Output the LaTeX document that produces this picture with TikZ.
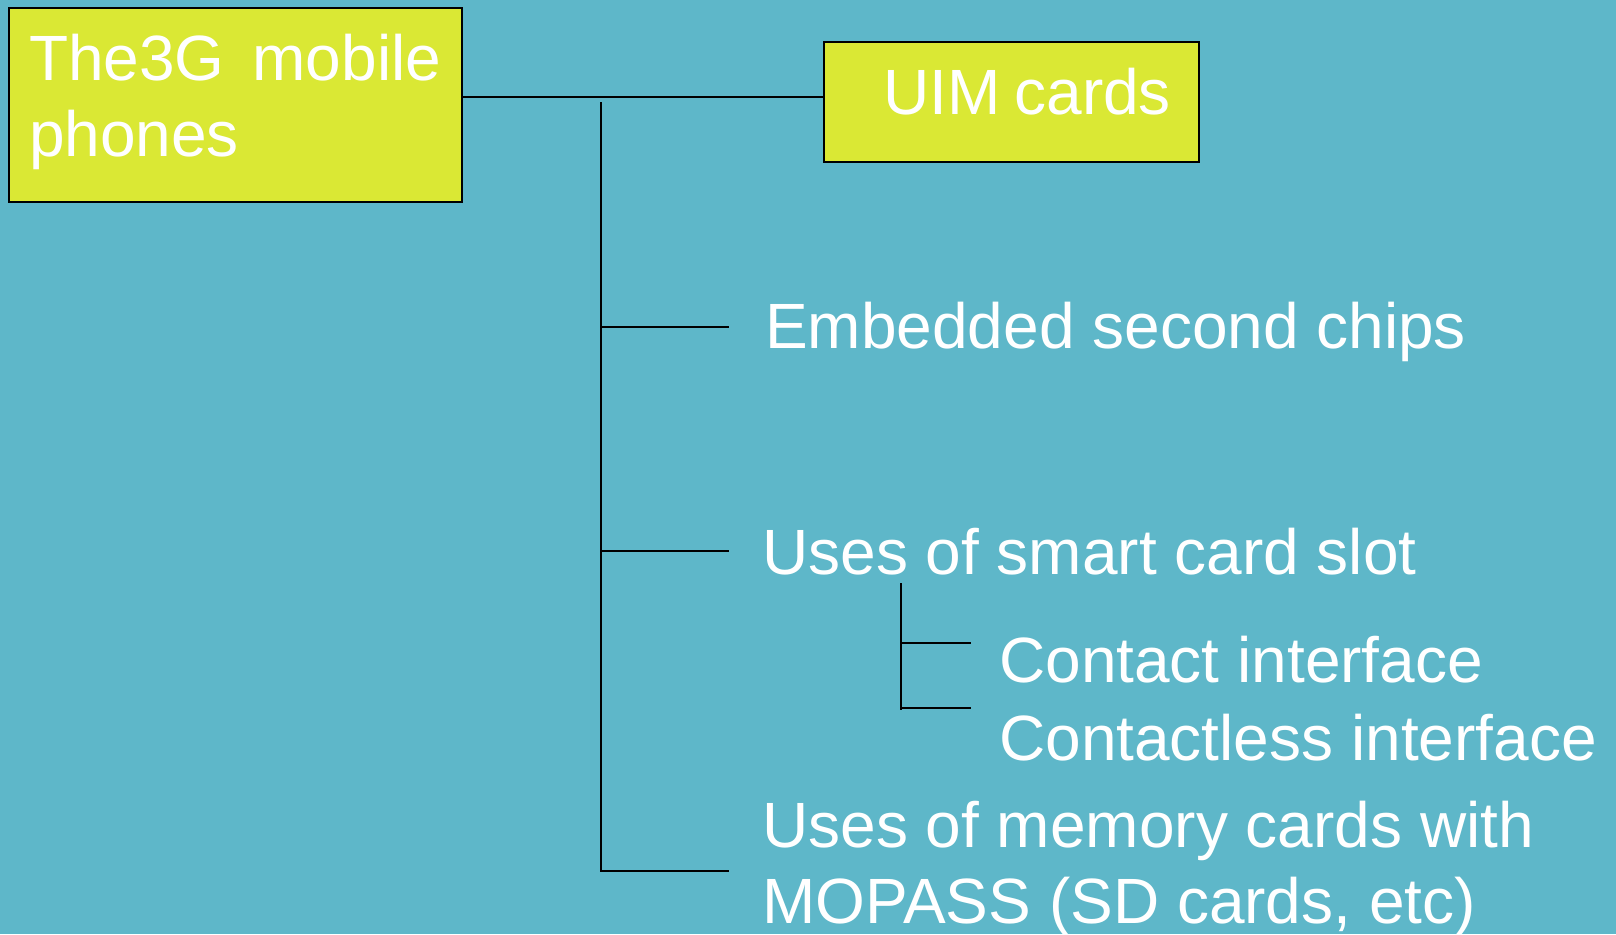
\documentclass[tikz,border=0pt]{standalone}
\usepackage{fontspec}
\setmainfont{Liberation Sans}
\usepackage{tikz}
\usetikzlibrary{positioning,calc}
\definecolor{bgcolor}{RGB}{94,183,201}
\definecolor{boxcolor}{RGB}{218,232,52}

\begin{document}
\begin{tikzpicture}[
  x=1pt, y=-1pt,
  topbox/.style = {rectangle, draw=black, line width=2pt, fill=boxcolor,
                   anchor=north west, inner ysep=0pt, text=white,
                   font=\fontsize{64}{76}\selectfont},
  item/.style   = {anchor=base west, inner sep=0pt, text=white, align=left,
                   font=\fontsize{64}{76}\selectfont},
  wire/.style   = {line width=2pt, draw=black}
]
\useasboundingbox (0,0) rectangle (1616,934);
\fill[bgcolor] (0,0) rectangle (1616,934);

\def\Tx{601}
\def\Bx{729}
\def\Sx{901}
\def\Sb{971}

% the two boxes
\node[topbox, minimum width=453pt, minimum height=194pt, text width=413pt,
      inner xsep=20pt, text height=72pt, text depth=122pt, align=left]
      (phones) at (8,7) {\mbox{The3G\hspace{28pt}mobile}\\phones};
\node[topbox, minimum width=375pt, minimum height=120pt, text width=319pt,
      inner xsep=28pt, text height=72pt, text depth=48pt, align=right]
      (uim) at (823,41) {UIM\hspace{14pt}cards};
\draw[wire] ([yshift=5pt]uim.west) -- ([yshift=5pt]uim.west -| phones.east);

% the items
\node[item] (chips) at (765,348) {Embedded second chips};
\node[item] (slot) at (762,574) {Uses of smart card slot};
\node[item] (contact) at (999,682) {Contact interface};
\node[item] (contactless) at (999,760) {Contactless interface};
\node[item] (mopass) at (762,923) {Uses of memory cards with\\MOPASS (SD cards, etc)};

% trunk and branches
\coordinate (trunktop) at (\Tx,102);
\coordinate (trunkbot) at (\Tx,872);
\draw[wire] (trunktop) -- (trunkbot);
\foreach \y/\n in {327/chips, 551/slot, 871/mopass}{
  \coordinate (b\n) at (\Bx,\y);
  \draw[wire] (b\n -| trunktop) -- (b\n);
}

\coordinate (subtop) at (\Sx,583);
\coordinate (subbot) at (\Sx,710);
\draw[wire] (subtop) -- (subbot);
\foreach \y/\n in {643/contact, 708/contactless}{
  \coordinate (b\n) at (\Sb,\y);
  \draw[wire] (b\n -| subtop) -- (b\n);
}
\end{tikzpicture}
\end{document}
